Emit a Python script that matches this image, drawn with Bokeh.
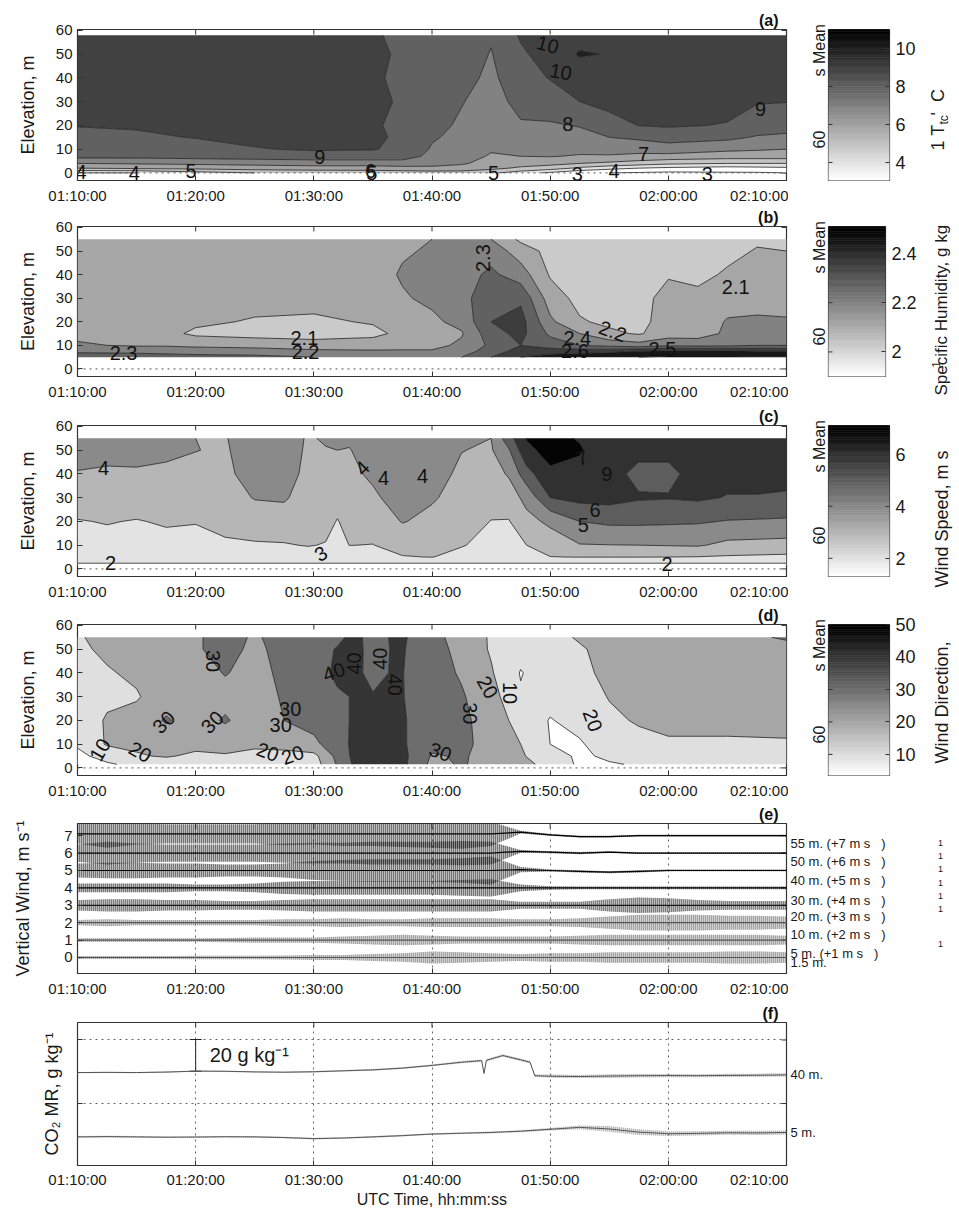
import numpy as np
from bokeh.plotting import figure
from bokeh.models import (ColumnDataSource, Range1d, FixedTicker, Span, Label, Whisker, TeeHead)
from bokeh.layouts import column, row
from bokeh.embed import file_html
from bokeh.resources import INLINE
from bokeh.core.properties import value

FONT = "Liberation Sans"

# ------------------------------------------------------------------ data
TIME_TICKS = [0, 10, 20, 30, 40, 50, 60]          # minutes after 01:10:00
TIME_LABELS = ["01:10:00", "01:20:00", "01:30:00", "01:40:00", "01:50:00", "02:00:00", "02:10:00"]
ELEV_TICKS = [0, 10, 20, 30, 40, 50, 60]

# (a) 60 s mean thermocouple temperature, C  (one profile per time)
A_TIME = [0, 5, 10, 15, 20, 25, 27.5, 30, 32.5, 35, 37.5, 40, 42.5, 45, 47.5, 50, 55, 57.5, 60]
A_ELEV = [0, 2, 4, 7, 10, 15, 20, 30, 40, 50, 58]
A_TEMP = [
    [4.0, 6.0, 7.0, 8.3, 8.6, 8.85, 9.02, 9.4, 9.5, 9.6, 9.6],
    [4.0, 6.2, 7.1, 8.3, 8.6, 8.92, 9.05, 9.4, 9.5, 9.6, 9.6],
    [4.6, 6.3, 7.2, 8.4, 8.8, 9.02, 9.2, 9.5, 9.6, 9.6, 9.6],
    [5.0, 6.5, 7.3, 8.5, 8.95, 9.2, 9.3, 9.5, 9.6, 9.6, 9.6],
    [5.2, 6.6, 7.4, 8.6, 9.1, 9.3, 9.4, 9.5, 9.6, 9.7, 9.6],
    [5.3, 6.6, 7.4, 8.6, 9.05, 9.15, 9.1, 9.2, 9.1, 9.15, 9.1],
    [5.4, 6.7, 7.5, 8.5, 8.8, 8.85, 8.8, 8.9, 8.85, 8.9, 8.8],
    [5.5, 6.8, 7.3, 7.7, 7.9, 8.1, 8.3, 8.6, 8.75, 8.8, 8.8],
    [5.5, 6.7, 7.1, 7.4, 7.6, 7.75, 7.85, 8.05, 8.3, 8.5, 8.6],
    [5.2, 6.3, 6.7, 6.9, 7.1, 7.3, 7.4, 7.6, 7.8, 7.95, 8.1],
    [4.5, 5.8, 6.5, 7.0, 7.3, 7.6, 7.9, 8.3, 8.6, 8.85, 9.1],
    [3.8, 5.5, 6.3, 7.05, 7.4, 7.7, 7.9, 8.5, 9.05, 9.4, 9.5],
    [3.2, 4.8, 6.0, 6.9, 7.3, 7.7, 8.05, 9.0, 9.3, 10.1, 9.6],
    [3.0, 4.3, 5.8, 6.9, 7.4, 8.0, 8.6, 9.3, 9.5, 9.95, 9.7],
    [2.9, 4.0, 5.5, 6.8, 7.3, 8.2, 9.02, 9.4, 9.5, 9.6, 9.6],
    [2.8, 3.8, 5.2, 6.7, 7.5, 8.45, 9.1, 9.4, 9.5, 9.5, 9.5],
    [2.9, 3.6, 5.0, 6.5, 7.2, 8.25, 8.95, 9.3, 9.4, 9.5, 9.5],
    [2.9, 3.7, 5.0, 6.5, 7.1, 7.9, 8.6, 9.05, 9.3, 9.4, 9.4],
    [3.0, 3.8, 5.0, 6.5, 7.0, 7.8, 8.4, 9.02, 9.3, 9.3, 9.3],
]
A_LEVELS = [3, 4, 5, 6, 7, 8, 9, 10, 11]
A_CLIM = (3.05, 11.0)
A_CB_TICKS = [4, 6, 8, 10]
A_CB_LABELS = ["4", "6", "8", "10"]
A_CLABELS = [(0.3, 0.3, "4", 0), (4.8, 0.0, "4", 0), (9.6, 1.0, "5", 0), (20.5, 6.5, "9", 0),
             (24.8, 0.8, "6", 0), (24.9, 0.0, "5", 0), (35.2, 0.0, "5", 0), (42.3, -0.3, "3", 0),
             (45.4, 1.0, "4", 0), (47.9, 8.0, "7", 0), (53.3, -0.3, "3", 0), (41.5, 20.5, "8", 0),
             (57.8, 27.0, "9", 0), (39.8, 54.0, "10", -15), (40.9, 42.6, "10", -10)]

# (b) 60 s mean specific humidity, g/kg
B_TIME = [0, 5, 7.5, 10, 15, 20, 25, 27.5, 30, 32.5, 35, 37.5, 40, 42.5, 45, 47.5, 50, 52.5, 55, 57.5, 60]
B_ELEV = [5, 7.5, 10, 15, 20, 30, 40, 50, 55]
B_HUM = [
    [2.36, 2.28, 2.21, 2.18, 2.17, 2.16, 2.16, 2.16, 2.16],
    [2.36, 2.27, 2.19, 2.15, 2.15, 2.16, 2.16, 2.16, 2.16],
    [2.35, 2.26, 2.19, 2.13, 2.14, 2.15, 2.16, 2.16, 2.16],
    [2.34, 2.25, 2.18, 2.08, 2.12, 2.15, 2.16, 2.16, 2.16],
    [2.33, 2.24, 2.17, 2.06, 2.09, 2.14, 2.15, 2.16, 2.16],
    [2.30, 2.22, 2.15, 2.05, 2.08, 2.14, 2.15, 2.16, 2.16],
    [2.28, 2.21, 2.16, 2.07, 2.11, 2.15, 2.16, 2.17, 2.17],
    [2.27, 2.21, 2.17, 2.13, 2.16, 2.19, 2.21, 2.19, 2.17],
    [2.27, 2.21, 2.17, 2.15, 2.18, 2.22, 2.23, 2.21, 2.20],
    [2.30, 2.25, 2.22, 2.19, 2.23, 2.26, 2.26, 2.24, 2.22],
    [2.40, 2.35, 2.32, 2.36, 2.40, 2.38, 2.32, 2.26, 2.20],
    [2.50, 2.44, 2.40, 2.43, 2.44, 2.38, 2.25, 2.15, 2.08],
    [2.55, 2.45, 2.35, 2.28, 2.22, 2.15, 2.09, 2.07, 2.06],
    [2.58, 2.45, 2.30, 2.20, 2.11, 2.07, 2.06, 2.06, 2.06],
    [2.60, 2.47, 2.27, 2.12, 2.08, 2.06, 2.06, 2.06, 2.06],
    [2.60, 2.50, 2.24, 2.09, 2.08, 2.08, 2.07, 2.06, 2.06],
    [2.62, 2.52, 2.28, 2.15, 2.13, 2.12, 2.095, 2.06, 2.06],
    [2.62, 2.52, 2.27, 2.15, 2.13, 2.12, 2.08, 2.06, 2.06],
    [2.62, 2.52, 2.28, 2.22, 2.21, 2.15, 2.11, 2.08, 2.06],
    [2.62, 2.50, 2.30, 2.24, 2.22, 2.15, 2.12, 2.105, 2.09],
    [2.62, 2.50, 2.30, 2.24, 2.21, 2.16, 2.13, 2.10, 2.08],
]
B_LEVELS = [2.0, 2.1, 2.2, 2.3, 2.4, 2.5, 2.6, 2.7]
B_CLIM = (1.9, 2.51)
B_FILL_CLIM = (1.85, 2.57)
B_CB_TICKS = [2.0, 2.2, 2.4]
B_CB_LABELS = ["2", "2.2", "2.4"]
B_CLABELS = [(3.9, 6.7, "2.3", 0), (19.2, 13.0, "2.1", 0), (19.3, 7.4, "2.2", 0), (34.3, 47.0, "2.3", 90),
             (55.7, 34.9, "2.1", 0), (45.3, 16.0, "2.2", -20), (42.3, 13.0, "2.4", 0),
             (42.1, 7.5, "2.6", 0), (49.5, 8.4, "2.5", 0)]

# (c) 60 s mean wind speed, m/s
C_TIME = [0, 2.5, 5, 7.5, 10, 12.5, 15, 17.5, 19.5, 21, 22, 23, 25, 27.5, 30, 32.5, 35, 36.5, 38,
          40, 42.5, 45, 47.5, 50, 52.5, 55, 57.5, 60]
C_ELEV = [1.5, 3, 5, 10, 20, 30, 40, 50, 55]
C_SPEED = [
    [1.7, 2.2, 2.4, 2.6, 2.95, 3.5, 3.95, 4.3, 4.4],
    [1.7, 2.2, 2.4, 2.7, 3.05, 3.5, 3.9, 4.2, 4.3],
    [1.7, 2.2, 2.4, 2.6, 2.95, 3.5, 3.92, 4.2, 4.3],
    [1.7, 2.2, 2.45, 2.7, 3.1, 3.5, 3.85, 4.15, 4.3],
    [1.7, 2.2, 2.45, 2.65, 3.05, 3.4, 3.75, 4.02, 4.0],
    [1.7, 2.2, 2.5, 2.85, 3.3, 3.6, 3.8, 3.9, 3.95],
    [1.7, 2.2, 2.5, 2.9, 3.5, 4.05, 4.4, 4.5, 4.5],
    [1.7, 2.2, 2.5, 2.93, 3.6, 4.1, 4.4, 4.5, 4.5],
    [1.7, 2.2, 2.55, 3.05, 3.4, 3.6, 3.75, 3.85, 3.9],
    [1.7, 2.2, 2.6, 2.95, 3.3, 3.6, 3.8, 3.95, 4.1],
    [1.7, 2.2, 2.5, 2.7, 2.95, 3.4, 3.8, 4.0, 4.1],
    [1.7, 2.2, 2.6, 3.01, 3.35, 3.6, 3.8, 3.97, 4.1],
    [1.7, 2.2, 2.6, 2.98, 3.4, 3.85, 4.15, 4.3, 4.3],
    [1.7, 2.2, 2.95, 3.35, 4.05, 4.4, 4.5, 4.4, 4.3],
    [1.7, 2.2, 3.02, 3.3, 3.75, 4.1, 4.3, 4.3, 4.2],
    [1.7, 2.2, 2.75, 3.05, 3.4, 3.65, 3.85, 4.02, 4.2],
    [1.7, 2.2, 2.5, 2.75, 2.98, 3.3, 3.6, 3.9, 4.0],
    [1.7, 2.2, 2.5, 2.8, 2.95, 3.5, 4.1, 4.9, 5.6],
    [1.7, 2.2, 2.7, 3.0, 3.7, 4.3, 5.6, 6.8, 7.05],
    [1.7, 2.2, 2.98, 3.45, 4.2, 6.0, 6.85, 7.3, 7.2],
    [1.7, 2.2, 3.02, 3.95, 5.0, 6.3, 6.75, 7.08, 6.95],
    [1.7, 2.2, 3.02, 3.98, 5.2, 6.35, 6.4, 6.5, 6.5],
    [1.7, 2.2, 3.02, 4.0, 5.2, 6.1, 5.7, 6.3, 6.4],
    [1.7, 2.2, 3.0, 4.05, 5.15, 6.05, 5.8, 6.2, 6.3],
    [1.7, 2.2, 2.97, 4.1, 5.1, 6.15, 6.3, 6.4, 6.4],
    [1.7, 2.2, 2.9, 3.75, 4.95, 5.95, 6.3, 6.4, 6.4],
    [1.7, 2.2, 2.85, 3.7, 4.9, 5.95, 6.3, 6.4, 6.4],
    [1.7, 2.2, 2.8, 3.65, 4.85, 5.9, 6.25, 6.35, 6.35],
]
C_LEVELS = [1, 2, 3, 4, 5, 6, 7, 8]
C_CLIM = (1.3, 7.1)
C_CB_TICKS = [2, 4, 6]
C_CB_LABELS = ["2", "4", "6"]
C_CLABELS = [(2.2, 42.5, "4", 0), (2.8, 2.5, "2", 0), (20.6, 6.4, "3", 30), (24.1, 42.5, "4", 45),
             (25.9, 38.3, "4", 0), (29.2, 39.0, "4", 0), (44.8, 40.0, "6", 180), (43.8, 24.7, "6", 0),
             (42.8, 18.3, "5", 0), (49.9, 2.0, "2", 0), (42.7, 46.8, "7", 20)]

# (d) 60 s mean wind direction
D_TIME = [0, 2.5, 5, 7.5, 10, 12.5, 15, 17.5, 20, 22, 23.5, 25, 27, 28.5, 30, 32.5, 35, 37.5, 40,
          42.5, 45, 47.5, 50, 55, 60]
D_ELEV = [1.5, 5, 10, 20, 30, 40, 50, 55]
D_DIR = [
    [6, 8, 11, 14, 15, 16, 18, 19],
    [9, 13, 21, 21, 18, 19, 22, 23],
    [12, 19, 22, 24, 19, 22, 24, 24],
    [14, 21, 24, 31, 26, 25, 25, 25],
    [15, 18, 23, 26, 25, 26, 29, 29],
    [15, 19, 24, 31, 27, 30.5, 33, 33],
    [14, 17, 22, 25, 26, 27, 28, 29],
    [14, 16, 24, 30, 31, 32, 33, 33],
    [15, 17, 28, 33, 32, 33, 34, 34],
    [31, 33, 35, 36, 38, 43, 41, 37],
    [42, 43, 43, 42, 41, 43, 44, 44],
    [44, 45, 45, 44, 41, 36, 35, 34],
    [43, 44, 44, 44, 43, 42, 42, 43],
    [38, 38, 37, 37, 36, 37, 38, 38],
    [27, 29, 33, 35, 34, 34, 34, 33],
    [31, 31, 32, 32, 31, 29, 27, 26],
    [26, 27, 27, 26, 24, 21, 19, 19],
    [22, 21, 20, 16, 11, 9.5, 13, 15],
    [18, 15, 10, 9.5, 13, 15, 16, 17],
    [8, 8, 9, 13, 15, 17, 19, 21],
    [9, 12, 15, 18, 20.5, 23, 23, 23],
    [11, 14, 17, 21, 23, 24, 24, 24],
    [12, 15, 18.5, 23, 24, 25, 25, 25],
    [12, 16, 18.5, 23, 24, 25, 26, 27],
    [12, 16, 19, 23, 25, 26, 27, 31],
]
D_LEVELS = [0, 10, 20, 30, 40, 50]
D_CLIM = (3.5, 50.0)
D_CB_TICKS = [10, 20, 30, 40, 50]
D_CB_LABELS = ["10", "20", "30", "40", "50"]
D_CLABELS = [(1.9, 7.6, "10", 60), (5.3, 6.7, "20", -30), (7.3, 19.3, "30", 45), (11.5, 45.0, "30", -90),
             (11.4, 19.3, "30", 45), (18.0, 25.0, "30", 0), (17.2, 18.0, "30", 0), (16.1, 6.7, "20", -20),
             (18.2, 5.5, "20", 20), (21.7, 40.4, "40", 20), (23.4, 44.0, "40", 90), (25.6, 46.0, "40", 90),
             (26.9, 35.0, "40", -90), (30.7, 6.7, "30", -20), (33.2, 23.0, "30", -90), (34.7, 34.0, "20", -60),
             (36.6, 31.5, "10", -90), (43.6, 20.0, "20", -70)]

# (e) vertical wind, offset by level (running mean and half-range of the fluctuations)
E_TIME = [0, 2.5, 5, 7.5, 10, 12.5, 15, 17.5, 20, 22.5, 25, 27.5, 30, 32.5, 35, 37.5, 40, 42.5,
          45, 47.5, 50, 52.5, 55, 57.5, 60]
E_NAMES = ["55 m.", "50 m.", "40 m.", "30 m.", "20 m.", "10 m.", "5 m.", "1.5 m."]
E_SHIFTS = ["(+7 m s   )", "(+6 m s   )", "(+5 m s   )", "(+4 m s   )", "(+3 m s   )",
            "(+2 m s   )", "(+1 m s   )", ""]
E_MEAN = [
    [7.1] * 15 + [7.2, 7.05, 6.95, 6.95, 7.0, 7.0, 7.0, 7.0, 7.0, 7.0],
    [6.0] * 15 + [6.1, 6.05, 6.0, 6.05, 6.0, 6.0, 6.0, 6.0, 6.0, 6.0],
    [5.0] * 15 + [5.05, 5.0, 4.95, 4.9, 4.95, 5.0, 5.0, 5.0, 5.0, 5.0],
    [4.0] * 25,
    [3.0] * 25,
    [2.0] * 25,
    [1.0] * 25,
    [0.0] * 25,
]
E_AMP = [
    [0.55, 0.8, 0.6, 0.55, 0.55, 0.55, 0.55, 0.65, 0.6, 0.7, 0.7, 0.75, 0.8, 0.85, 0.7, 0.08, 0.05, 0.05,
     0.05, 0.05, 0.05, 0.05, 0.05, 0.05, 0.05],
    [0.5, 0.65, 0.55, 0.5, 0.5, 0.5, 0.5, 0.55, 0.6, 0.6, 0.65, 0.65, 0.65, 0.7, 0.65, 0.08, 0.06, 0.06,
     0.05, 0.05, 0.05, 0.05, 0.05, 0.05, 0.05],
    [0.4, 0.45, 0.45, 0.4, 0.4, 0.35, 0.35, 0.4, 0.55, 0.6, 0.65, 0.65, 0.65, 0.7, 0.8, 0.15, 0.06, 0.06,
     0.06, 0.06, 0.05, 0.05, 0.05, 0.05, 0.05],
    [0.25, 0.25, 0.25, 0.25, 0.2, 0.2, 0.25, 0.35, 0.4, 0.4, 0.4, 0.4, 0.4, 0.45, 0.5, 0.2, 0.1, 0.08,
     0.08, 0.08, 0.08, 0.08, 0.08, 0.08, 0.08],
    [0.3, 0.35, 0.35, 0.3, 0.3, 0.25, 0.25, 0.3, 0.35, 0.35, 0.35, 0.35, 0.35, 0.35, 0.35, 0.2, 0.2, 0.2,
     0.35, 0.45, 0.4, 0.3, 0.25, 0.25, 0.25],
    [0.15, 0.2, 0.15, 0.15, 0.15, 0.15, 0.15, 0.2, 0.2, 0.25, 0.2, 0.2, 0.25, 0.25, 0.25, 0.2, 0.2, 0.25,
     0.35, 0.45, 0.45, 0.45, 0.4, 0.4, 0.35],
    [0.1, 0.1, 0.1, 0.1, 0.1, 0.12, 0.15, 0.15, 0.15, 0.2, 0.25, 0.3, 0.25, 0.2, 0.2, 0.2, 0.2, 0.25,
     0.3, 0.3, 0.3, 0.3, 0.3, 0.3, 0.25],
    [0.08, 0.08, 0.08, 0.08, 0.1, 0.1, 0.1, 0.12, 0.15, 0.15, 0.2, 0.25, 0.35, 0.3, 0.25, 0.2, 0.25, 0.25,
     0.3, 0.3, 0.3, 0.3, 0.35, 0.35, 0.3],
]

# (f) CO2 mixing ratio (relative scale, g/kg) at 40 m and 5 m
F40_TIME = [0, 2.5, 5, 7.5, 10, 12.5, 15, 17.5, 20, 22.5, 25, 27.5, 30, 32.5, 34.2, 34.4, 34.6, 36,
            37.5, 38.3, 38.7, 40, 42.5, 45, 47.5, 50, 52.5, 55, 57.5, 60]
F40_CO2 = [59.5, 59.6, 59.5, 59.8, 60.4, 60.3, 59.9, 59.7, 60.0, 60.6, 61.2, 62.3, 64.0, 66.0, 67.0,
           59.0, 67.2, 70.2, 67.5, 66.0, 57.5, 57.2, 57.0, 57.3, 57.5, 57.6, 57.5, 57.7, 57.8, 58.0]
F40_AMP = [0.4, 0.4, 0.4, 0.4, 0.4, 0.4, 0.4, 0.4, 0.4, 0.5, 0.5, 0.6, 0.6, 0.7, 0.7, 0.7, 0.7, 0.8,
           0.8, 0.8, 0.8, 1.0, 1.0, 1.2, 1.1, 1.0, 1.0, 1.0, 1.0, 1.0]
F5_TIME = [0, 2.5, 5, 7.5, 10, 12.5, 15, 17.5, 20, 22.5, 25, 27.5, 30, 32.5, 35, 37.5, 40, 42.5,
           45, 47.5, 50, 52.5, 55, 57.5, 60]
F5_CO2 = [19.0, 19.2, 19.0, 18.8, 18.9, 19.1, 19.0, 18.6, 17.9, 18.3, 19.0, 19.8, 20.8, 21.3, 21.8,
          22.6, 23.8, 25.0, 24.0, 22.0, 21.0, 21.2, 21.6, 21.5, 21.8]
F5_AMP = [0.5, 0.5, 0.5, 0.5, 0.5, 0.5, 0.5, 0.5, 0.5, 0.5, 0.5, 0.5, 0.5, 0.5, 0.6, 0.6, 0.8, 1.2,
          1.8, 1.8, 1.5, 1.3, 1.3, 1.3, 1.3]
F_NAMES = ["40 m.", "5 m."]
SCALE_BAR = dict(time=10, base=60.3, length=20, text="20 g kg\u207b\u00b9")

# ------------------------------------------------------------------ layout constants (page px)
MAIN_W = 788          # frame 77..786
LEFT = 77
ROW_TOPS = [0, 206, 405, 604, 803, 1002]


# ------------------------------------------------------------------ helpers
def grey_index(i):
    g = int(round(255 * (1 - i / 63)))
    return "#%02x%02x%02x" % (g, g, g)


def grey_at(v, lo, hi):
    f = (v - lo) / (hi - lo)
    idx = int(np.floor(np.clip(f, 0, 0.9999) * 64))
    return grey_index(idx)


def style_axis(ax, size="15px"):
    ax.major_label_text_font = FONT
    ax.major_label_text_font_size = size
    ax.major_label_text_color = "#1a1a1a"
    ax.axis_line_color = None
    ax.major_tick_in = 5
    ax.major_tick_out = 0
    ax.major_tick_line_color = "#333333"
    ax.minor_tick_line_color = None
    ax.axis_label_text_font = FONT
    ax.axis_label_text_font_style = "normal"
    ax.axis_label_text_color = "#1a1a1a"


def base_figure(height, top, bottom, yr, yticks, letter):
    p = figure(width=MAIN_W, height=height, x_range=Range1d(0, 60), y_range=Range1d(*yr),
               output_backend="svg", toolbar_location=None, title=letter,
               min_border_left=LEFT, min_border_right=2,
               min_border_top=top, min_border_bottom=bottom)
    p.title.align = "right"
    p.title.offset = 8
    p.title.standoff = 1
    p.title.text_font = FONT
    p.title.text_font_size = "16px"
    p.title.text_font_style = "bold"
    p.title.text_color = "#111111"
    p.outline_line_color = "#333333"
    p.outline_line_width = 1.2
    p.xaxis.ticker = FixedTicker(ticks=TIME_TICKS)
    p.xaxis.major_label_overrides = dict(zip(TIME_TICKS, TIME_LABELS))
    p.yaxis.ticker = FixedTicker(ticks=yticks)
    style_axis(p.xaxis[0])
    style_axis(p.yaxis[0])
    p.xaxis.major_label_standoff = 6
    p.yaxis.major_label_standoff = 5
    p.xgrid.visible = False
    p.ygrid.visible = False
    # inside tick marks on the top and right edges (half of each dash is clipped by the frame)
    p.scatter(x=TIME_TICKS, y=[yr[1]] * len(TIME_TICKS), marker="dash", angle=np.pi / 2, size=10,
              line_color="#333333", line_width=1)
    p.scatter(x=[60] * len(yticks), y=yticks, marker="dash", size=10, line_color="#333333", line_width=1)
    return p


def page_fig(x0, width, y0, height):
    f = figure(width=width, height=height, x_range=Range1d(x0, x0 + width),
               y_range=Range1d(-(y0 + height), -y0), output_backend="svg", toolbar_location=None,
               x_axis_location=None, y_axis_location=None, min_border=0)
    f.frame_align = False
    f.outline_line_color = None
    f.grid.visible = False
    return f


def page_text(f, x, y, text, size, angle=0.0, align="left", baseline="middle"):
    f.text(x=[x], y=[-y], text=[text], angle=angle, text_font=value(FONT), text_font_size=size,
           text_align=align, text_baseline=baseline, text_color="#1a1a1a")


def to_page_y(v, yr, frame_top, fh):
    return frame_top + (yr[1] - v) / (yr[1] - yr[0]) * fh


def contour_row(idx, times, elevs, profiles, levels, clim, fill_clim, cb_ticks, cb_labels, clabels,
                height, top, bottom, letter, side_texts):
    yr = (-3.2, 60.4)
    p = base_figure(height, top, bottom, yr, ELEV_TICKS, letter)
    p.yaxis.axis_label = "Elevation, m"
    p.yaxis.axis_label_text_font_size = "18px"
    p.yaxis.axis_label_standoff = 15
    flo, fhi = fill_clim
    z = np.array(profiles, dtype=float).T
    fills = [grey_at(l, flo, fhi) for l in levels[:-1]]
    p.contour(x=np.array(times, dtype=float), y=np.array(elevs, dtype=float), z=z, levels=levels,
              fill_color=fills, line_color="#222222", line_width=0.8)
    p.add_layout(Span(location=0, dimension="width", line_dash="dotted", line_color="#555555",
                      line_width=1))
    src = ColumnDataSource(dict(x=[c[0] for c in clabels], y=[c[1] for c in clabels],
                                text=[c[2] for c in clabels],
                                angle=[np.deg2rad(c[3]) for c in clabels]))
    p.text(x="x", y="y", text="text", angle="angle", source=src, text_font=value(FONT),
           text_font_size="20px", text_align="center", text_baseline="middle", text_color="#111111")

    row_top = ROW_TOPS[idx]
    frame_top = row_top + top
    gap = page_fig(MAIN_W, 39, row_top, height)
    lo, hi = clim
    cb = figure(width=92, height=height, x_range=Range1d(0, 1), y_range=Range1d(lo, hi),
                output_backend="svg", toolbar_location=None, x_axis_location=None,
                y_axis_location="right", min_border_left=1, min_border_right=30,
                min_border_top=top, min_border_bottom=bottom)
    edges = np.linspace(lo, hi, 65)
    greys = [grey_index(i) for i in range(64)]
    cb.quad(left=0, right=1, bottom=edges[:-1], top=edges[1:], fill_color=greys, line_color=greys,
            line_width=0.6)
    cb.yaxis.ticker = FixedTicker(ticks=cb_ticks)
    cb.yaxis.major_label_overrides = dict(zip(cb_ticks, cb_labels))
    style_axis(cb.yaxis[0], "18px")
    cb.yaxis.major_tick_in = 4
    cb.yaxis.major_label_standoff = 6
    cb.scatter(x=[0] * len(cb_ticks), y=cb_ticks, marker="dash", size=8, line_color="#333333",
               line_width=1)
    cb.grid.visible = False
    cb.outline_line_color = "#333333"
    cb.outline_line_width = 1.2
    lab = page_fig(MAIN_W + 39 + 92, 39, row_top, height)
    for text, px, rel_y, size in side_texts:
        target = gap if px < 828 else lab
        page_text(target, px, frame_top + rel_y, text, size, angle=np.pi / 2)
    return row(p, gap, cb, lab)


COMMON_CB = [("s Mean", 819, 47, "16px"), ("60", 818, 119, "16px")]

row_a = contour_row(0, A_TIME, A_ELEV, A_TEMP, A_LEVELS, A_CLIM, A_CLIM, A_CB_TICKS, A_CB_LABELS,
                    A_CLABELS, 206, 29, 26, "(a)",
                    COMMON_CB + [("1 T", 937, 121, "18px"), ("tc", 943, 95, "12px"),
                                 ("'\u00a0\u00a0C", 937, 86, "18px")])
row_b = contour_row(1, B_TIME, B_ELEV, B_HUM, B_LEVELS, B_CLIM, B_FILL_CLIM, B_CB_TICKS, B_CB_LABELS,
                    B_CLABELS, 199, 20, 29, "(b)",
                    COMMON_CB + [("Specific Humidity, g kg", 941, 169, "17px"), ("1", 935, 141, "11px")])
row_c = contour_row(2, C_TIME, C_ELEV, C_SPEED, C_LEVELS, C_CLIM, C_CLIM, C_CB_TICKS, C_CB_LABELS,
                    C_CLABELS, 199, 20, 28, "(c)",
                    COMMON_CB + [("Wind Speed, m s", 941, 162, "18px")])
row_d = contour_row(3, D_TIME, D_ELEV, D_DIR, D_LEVELS, D_CLIM, D_CLIM, D_CB_TICKS, D_CB_LABELS,
                    D_CLABELS, 199, 20, 28, "(d)",
                    COMMON_CB + [("Wind Direction,", 941, 139, "18px")])

# ------------------------------------------------------------------ (e)
e_yr = (-0.92, 7.7)
E_H, E_TOP, E_BOT = 199, 20, 29
pe = base_figure(E_H, E_TOP, E_BOT, e_yr, [0, 1, 2, 3, 4, 5, 6, 7], "(e)")
pe.xgrid.visible = True
pe.xgrid.grid_line_dash = "dotted"
pe.xgrid.grid_line_color = "#666666"
pe.yaxis.axis_label = "Vertical Wind, m s\u207b\u00b9"
pe.yaxis.axis_label_text_font_size = "18px"
pe.yaxis.axis_label_standoff = 28
trace_fill = ["#222222"] * 5 + ["#666666"] * 3
trace_line = ["#000000"] * 4 + ["#1a1a1a"] + ["#555555"] * 3
for mean, amp, fc, lc in zip(E_MEAN, E_AMP, trace_fill, trace_line):
    m = np.array(mean)
    a = np.array(amp)
    pe.varea(x=E_TIME, y1=m - a, y2=m + a, fill_color=fc, fill_alpha=0.3,
             hatch_pattern="vertical_line", hatch_scale=2, hatch_weight=0.9,
             hatch_color=lc, hatch_alpha=0.85)
    pe.line(x=E_TIME, y=m, line_color=lc, line_width=1.2)
ptext_e = page_fig(MAIN_W, 958 - MAIN_W, ROW_TOPS[4], E_H)
e_fh = E_H - E_TOP - E_BOT
e_label_y = [6.55, 5.5, 4.41, 3.26, 2.34, 1.31, 0.22, -0.3]
for name, shift, ly in zip(E_NAMES, E_SHIFTS, e_label_y):
    txt = (name + " " + shift).strip().replace("  ", "\u00a0\u00a0")
    page_text(ptext_e, 790, to_page_y(ly, e_yr, ROW_TOPS[4] + E_TOP, e_fh), txt, "13px")
for ly in [6.6, 5.85, 5.1, 4.3, 3.55, 2.8, 0.75]:
    page_text(ptext_e, 940, to_page_y(ly, e_yr, ROW_TOPS[4] + E_TOP, e_fh), "1", "9px", align="center")
row_e = row(pe, ptext_e)

# ------------------------------------------------------------------ (f)
f_yr = (1, 91)
F_H, F_TOP, F_BOT = 209, 20, 46
pf = base_figure(F_H, F_TOP, F_BOT, f_yr, [40, 80], "(f)")
pf.xgrid.visible = True
pf.ygrid.visible = True
for g in (pf.xgrid, pf.ygrid):
    g.grid_line_dash = "dotted"
    g.grid_line_color = "#666666"
pf.yaxis.major_label_text_color = None
pf.yaxis.axis_label = "CO\u2082 MR, g kg\u207b\u00b9"
pf.yaxis.axis_label_text_font_size = "18px"
pf.yaxis.axis_label_standoff = 16
pf.xaxis.axis_label = "UTC Time, hh:mm:ss"
pf.xaxis.axis_label_text_font_size = "16px"
pf.xaxis.axis_label_standoff = 0
pf.xaxis.major_label_standoff = 5
for tt, yy, aa in [(F40_TIME, F40_CO2, F40_AMP), (F5_TIME, F5_CO2, F5_AMP)]:
    y = np.array(yy)
    a = np.array(aa)
    pf.varea(x=tt, y1=y - a, y2=y + a, fill_color="#888888", fill_alpha=0.25,
             hatch_pattern="vertical_line", hatch_scale=2, hatch_weight=0.7,
             hatch_color="#555555", hatch_alpha=0.8)
    pf.line(x=tt, y=y, line_color="#555555", line_width=1)
sb = ColumnDataSource(dict(base=[SCALE_BAR["time"]], lower=[SCALE_BAR["base"]],
                           upper=[SCALE_BAR["base"] + SCALE_BAR["length"]]))
pf.add_layout(Whisker(source=sb, base="base", lower="lower", upper="upper", dimension="height",
                      line_color="#222222", line_width=1,
                      lower_head=TeeHead(size=12, line_color="#222222"),
                      upper_head=TeeHead(size=12, line_color="#222222")))
pf.add_layout(Label(x=SCALE_BAR["time"], y=SCALE_BAR["base"] + SCALE_BAR["length"] / 2,
                    text=SCALE_BAR["text"], x_offset=14, text_align="left", text_baseline="middle",
                    text_font=FONT, text_font_size="20px", text_color="#1a1a1a"))
ptext_f = page_fig(MAIN_W, 958 - MAIN_W, ROW_TOPS[5], F_H)
f_fh = F_H - F_TOP - F_BOT
for name, yy in zip(F_NAMES, [F40_CO2[-1], F5_CO2[-1]]):
    page_text(ptext_f, 790, to_page_y(yy, f_yr, ROW_TOPS[5] + F_TOP, f_fh), name, "13px")
row_f = row(pf, ptext_f)

layout = column(row_a, row_b, row_c, row_d, row_e, row_f)
open("out.html", "w").write(file_html(layout, INLINE, "Tower profiles"))
